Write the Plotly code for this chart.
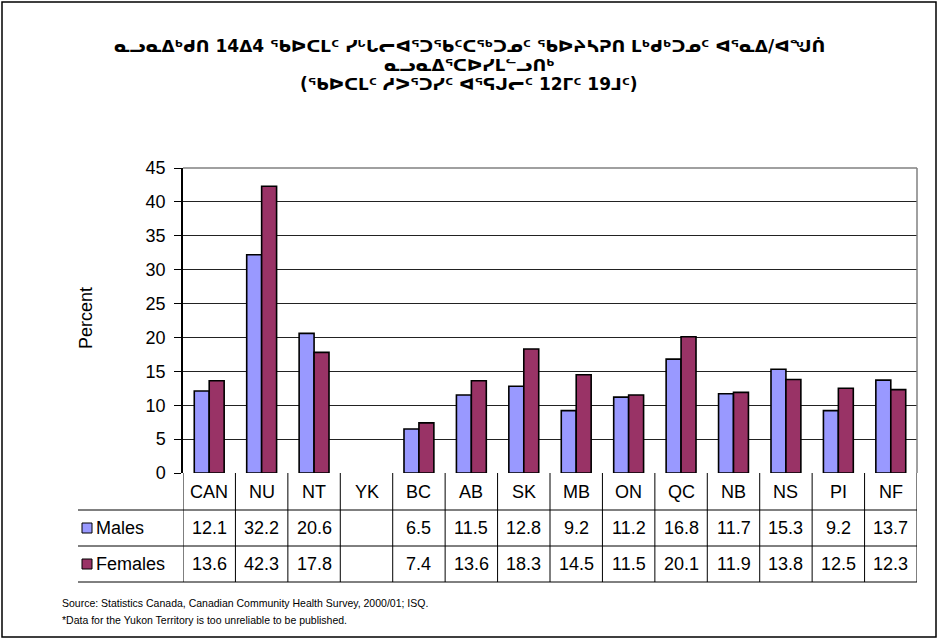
import plotly.graph_objects as go

# ---------------- data ----------------
categories = ["CAN", "NU", "NT", "YK", "BC", "AB", "SK", "MB", "ON", "QC", "NB", "NS", "PI", "NF"]
males = [12.1, 32.2, 20.6, None, 6.5, 11.5, 12.8, 9.2, 11.2, 16.8, 11.7, 15.3, 9.2, 13.7]
females = [13.6, 42.3, 17.8, None, 7.4, 13.6, 18.3, 14.5, 11.5, 20.1, 11.9, 13.8, 12.5, 12.3]
series_names = ["Males", "Females"]
y_ticks = [0, 5, 10, 15, 20, 25, 30, 35, 40, 45]

title_lines = [
    "ᓇᓗᓇᐃᒃᑯᑎ 14ᐃ4 ᖃᐅᑕᒪᑦ ᓯᒡᒐᓕᐊᕐᑐᖃᑦᑕᖅᑐᓄᑦ ᖃᐅᔨᓴᕈᑎ ᒪᒃᑯᒃᑐᓄᑦ ᐊᕐᓇᐃ/ᐊᖑᑏ",
    "ᓇᓗᓇᐃᕐᑕᐅᓯᒪᓪᓗᑎᒃ",
    "(ᖃᐅᑕᒪᑦ ᓱᐳᕐᑐᓯᑦ ᐊᕐᕋᒍᓕᑦ 12ᒥᑦ 19ᒧᑦ)",
]
source_lines = [
    "Source: Statistics Canada, Canadian Community Health Survey, 2000/01; ISQ.",
    "*Data for the Yukon Territory is too unreliable to be published.",
]
y_title = "Percent"

# ---------------- style ----------------
MALE_C = "#9999FF"
FEMALE_C = "#993366"
FONT = "Arial, Liberation Sans, sans-serif"
SYL_FONT = "DejaVu Sans, Noto Sans, sans-serif"

WIDTH, HEIGHT = 938, 639
PL, PR, PT, PB = 183, 917, 168, 473  # plot area in pixels
PW, PH = PR - PL, PB - PT


def xp(px):
    return (px - PL) / PW


def yp(py):
    return (PB - py) / PH


fig = go.Figure()
for name, vals, col in [(series_names[0], males, MALE_C), (series_names[1], females, FEMALE_C)]:
    fig.add_trace(go.Bar(
        x=categories, y=vals, name=name,
        marker=dict(color=col, line=dict(color="black", width=1.6)),
        hoverinfo="x+y",
    ))

shapes = []
annotations = []

# table rows (pixel rows)
row_top, row1, row2, row3 = PB, 510, 546, 582
table_left = 78

# horizontal table lines
for py in [row1, row2, row3]:
    shapes.append(dict(type="line", xref="paper", yref="paper",
                       x0=xp(table_left), x1=xp(PR), y0=yp(py), y1=yp(py),
                       line=dict(color="black", width=1)))
# vertical lines between categories
for i in range(len(categories) + 1):
    shapes.append(dict(type="line", xref="x", yref="paper",
                       x0=i - 0.5, x1=i - 0.5, y0=yp(row_top), y1=yp(row3),
                       line=dict(color="black", width=1)))

# category labels and values
for i, c in enumerate(categories):
    annotations.append(dict(x=c, xref="x", y=yp((row_top + row1) / 2), yref="paper",
                            text=c, showarrow=False, yanchor="middle",
                            font=dict(family=FONT, size=18, color="black")))
    for vals, (ya, yb) in [(males, (row1, row2)), (females, (row2, row3))]:
        v = vals[i]
        if v is not None:
            annotations.append(dict(x=c, xref="x", y=yp((ya + yb) / 2), yref="paper",
                                    text=f"{v:.1f}", showarrow=False, yanchor="middle",
                                    font=dict(family=FONT, size=18, color="black")))

# legend keys in table
for name, col, (ya, yb) in [(series_names[0], MALE_C, (row1, row2)), (series_names[1], FEMALE_C, (row2, row3))]:
    cy = (ya + yb) / 2
    shapes.append(dict(type="rect", xref="paper", yref="paper",
                       x0=xp(82), x1=xp(92), y0=yp(cy + 5), y1=yp(cy - 5),
                       fillcolor=col, line=dict(color="black", width=1)))
    annotations.append(dict(x=xp(94), xref="paper", y=yp(cy), yref="paper",
                            text=name, showarrow=False, xanchor="left", yanchor="middle",
                            font=dict(family=FONT, size=18, color="black")))

# plot area top/right border (gray)
shapes.append(dict(type="line", xref="paper", yref="paper", x0=0, x1=1, y0=1, y1=1,
                   line=dict(color="#808080", width=1.5)))
shapes.append(dict(type="line", xref="paper", yref="paper", x0=1, x1=1, y0=0, y1=1,
                   line=dict(color="#808080", width=1.5)))

# outer frame
shapes.append(dict(type="rect", xref="paper", yref="paper",
                   x0=xp(2), x1=xp(936), y0=yp(637), y1=yp(2),
                   line=dict(color="black", width=1.5), fillcolor="rgba(0,0,0,0)"))

# title
for txt, py in zip(title_lines, [46, 65, 84]):
    annotations.append(dict(x=xp(WIDTH / 2), xref="paper", y=yp(py), yref="paper",
                            text=f"<b>{txt}</b>", showarrow=False, xanchor="center", yanchor="middle",
                            font=dict(family=SYL_FONT, size=17, color="black")))

# y-axis title
annotations.append(dict(x=xp(86), xref="paper", y=yp(318), yref="paper",
                        text=y_title, showarrow=False, textangle=-90,
                        xanchor="center", yanchor="middle",
                        font=dict(family=FONT, size=18, color="black")))

# source notes
for txt, py in zip(source_lines, [603, 620]):
    annotations.append(dict(x=xp(60), xref="paper", y=yp(py), yref="paper",
                            text=txt, showarrow=False, xanchor="left", yanchor="middle",
                            font=dict(family=FONT, size=10.5, color="black")))

fig.update_layout(
    width=WIDTH, height=HEIGHT,
    margin=dict(l=PL, r=WIDTH - PR, t=PT, b=HEIGHT - PB, pad=0),
    paper_bgcolor="white", plot_bgcolor="white",
    barmode="group", bargap=0.43, bargroupgap=0,
    showlegend=False,
    shapes=shapes, annotations=annotations,
    xaxis=dict(type="category", range=[-0.5, len(categories) - 0.5],
               showticklabels=False, showgrid=False, zeroline=False,
               showline=False, ticks=""),
    yaxis=dict(range=[0, 45], tickvals=y_ticks, showgrid=True, gridcolor="#222222", gridwidth=1,
               zeroline=False, showline=True, linecolor="black", linewidth=1.5,
               ticks="outside", ticklen=7, tickcolor="black", ticklabelstandoff=5,
               tickfont=dict(family=FONT, size=18, color="black")),
    font=dict(family=FONT),
)

fig.write_html("out.html", config={"responsive": False, "displayModeBar": False},
               post_script="document.body.style.margin='0';document.body.style.padding='0';")
